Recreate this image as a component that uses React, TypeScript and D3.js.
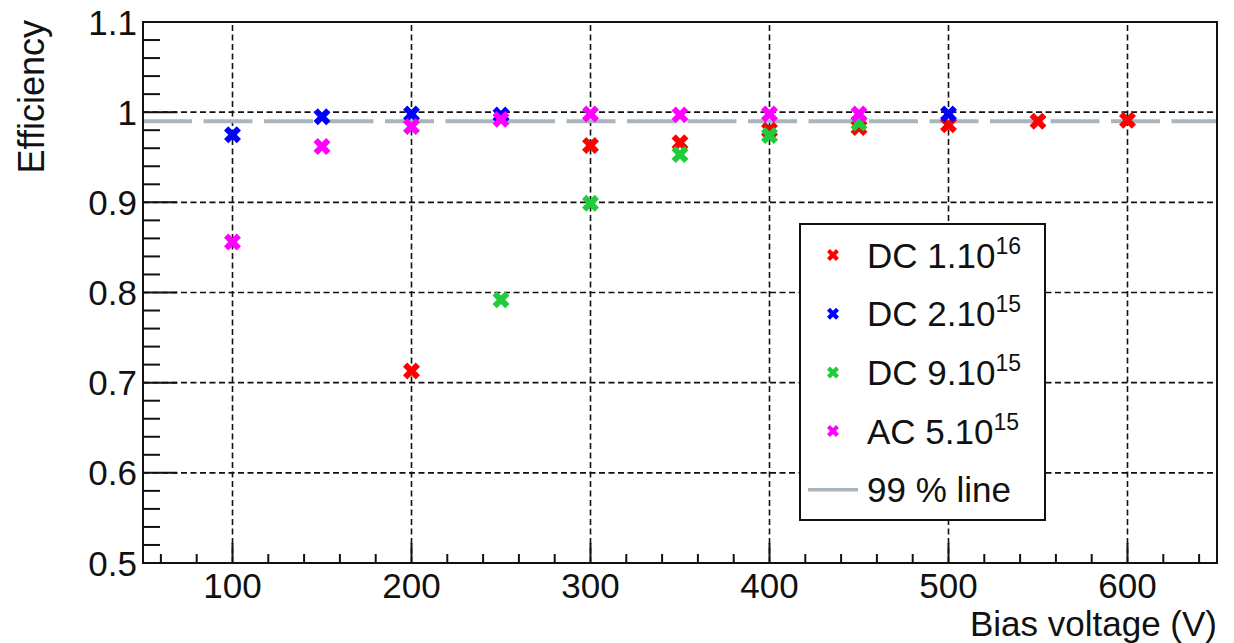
import * as d3 from "d3";
import React from "react";

// values
const xTicks = [100, 200, 300, 400, 500, 600];
const yTicks = [0.5, 0.6, 0.7, 0.8, 0.9, 1, 1.1];
const yTickLabels = ["0.5", "0.6", "0.7", "0.8", "0.9", "1", "1.1"];

const dc16Volt = [200, 300, 350, 400, 450, 500, 550, 600];
const dc16Eff = [0.713, 0.963, 0.966, 0.98, 0.983, 0.986, 0.99, 0.991];

const dc2Volt = [100, 150, 200, 250, 500];
const dc2Eff = [0.975, 0.995, 0.998, 0.997, 0.998];

const dc9Volt = [250, 300, 350, 400, 450];
const dc9Eff = [0.792, 0.899, 0.953, 0.974, 0.988];

const ac5Volt = [100, 150, 200, 250, 300, 350, 400, 450];
const ac5Eff = [0.856, 0.962, 0.984, 0.992, 0.998, 0.997, 0.998, 0.998];

const seriesNames = ["DC 1.10", "DC 2.10", "DC 9.10", "AC 5.10"];
const seriesExp = ["16", "15", "15", "15"];
const seriesColors = ["#ff0000", "#0000ff", "#1fcc3c", "#ff00ff"];
const refLevel = 0.99;
const refLabel = "99 % line";

const W = 1234;
const H = 643;
const FONT = "'Liberation Sans', Arial, Helvetica, sans-serif";

const App = () => {
  const x = d3.scaleLinear().domain([50, 650]).range([143, 1217]);
  const y = d3.scaleLinear().domain([0.5, 1.1]).range([563, 22]);

  const series = [
    { v: dc16Volt, e: dc16Eff },
    { v: dc2Volt, e: dc2Eff },
    { v: dc9Volt, e: dc9Eff },
    { v: ac5Volt, e: ac5Eff },
  ];

  const bigX = d3.symbol(d3.symbolCross, 180)();
  const smallX = d3.symbol(d3.symbolCross, 90)();

  const xMinor = d3.range(60, 650, 20).filter((v) => v % 100 !== 0);
  const yMinor = d3.range(0.52, 1.1, 0.02).filter((v) => Math.abs(v * 10 - Math.round(v * 10)) > 0.01);

  const [x0, x1] = x.range();
  const [yb, yt] = y.range();

  // legend box
  const lg = { left: 800, top: 224, right: 1045, bottom: 520 };
  const rowY = (i) => 255 + i * 58.7;

  return (
    <svg width={W} height={H} style={{ position: "absolute", left: 0, top: 0, background: "#fff" }} fontFamily={FONT}>
      <rect width={W} height={H} fill="#fff" />

      {/* grid */}
      <g stroke="#111" strokeWidth={1.6} strokeDasharray="6,3.5">
        {xTicks.map((t) => (
          <line key={"gx" + t} x1={x(t)} x2={x(t)} y1={yb} y2={yt} />
        ))}
        {yTicks.slice(1, -1).map((t) => (
          <line key={"gy" + t} x1={x0} x2={x1} y1={y(t)} y2={y(t)} />
        ))}
      </g>

      {/* ticks */}
      <g stroke="#111" strokeWidth={2}>
        {xTicks.map((t) => (
          <line key={"tx" + t} x1={x(t)} x2={x(t)} y1={yb} y2={yb - 20} />
        ))}
        {xMinor.map((t) => (
          <line key={"mx" + t} x1={x(t)} x2={x(t)} y1={yb} y2={yb - 9} />
        ))}
        {yTicks.map((t) => (
          <line key={"ty" + t} x1={x0} x2={x0 + 34} y1={y(t)} y2={y(t)} />
        ))}
        {yMinor.map((t) => (
          <line key={"my" + t} x1={x0} x2={x0 + 17} y1={y(t)} y2={y(t)} />
        ))}
      </g>

      {/* 99 % line */}
      <line x1={x0} x2={x1} y1={y(refLevel)} y2={y(refLevel)} stroke="#a9b5bd" strokeWidth={4} strokeDasharray="49,11.5" />

      {/* markers */}
      {series.map((s, i) => (
        <g key={"s" + i} fill={seriesColors[i]}>
          {s.v.map((v, j) => (
            <path key={j} d={bigX} transform={`translate(${x(v)},${y(s.e[j])}) rotate(45)`} />
          ))}
        </g>
      ))}

      {/* frame */}
      <rect x={x0} y={yt} width={x1 - x0} height={yb - yt} fill="none" stroke="#111" strokeWidth={2} />

      {/* tick labels */}
      <g fill="#111" fontSize={35}>
        {xTicks.map((t) => (
          <text key={"lx" + t} x={x(t)} y={598} textAnchor="middle">
            {t}
          </text>
        ))}
        {yTicks.map((t, i) => (
          <text key={"ly" + t} x={137} y={y(t)} dy="0.36em" textAnchor="end">
            {yTickLabels[i]}
          </text>
        ))}
      </g>

      {/* axis titles */}
      <text x={1217} y={636} textAnchor="end" fontSize={35} fill="#111">
        Bias voltage (V)
      </text>
      <text transform="translate(44,20) rotate(-90)" textAnchor="end" fontSize={36} fill="#111">
        Efficiency
      </text>

      {/* legend */}
      <rect x={lg.left} y={lg.top} width={lg.right - lg.left} height={lg.bottom - lg.top} fill="#fff" stroke="#111" strokeWidth={2} />
      {seriesNames.map((n, i) => (
        <g key={"lg" + i}>
          <path d={smallX} fill={seriesColors[i]} transform={`translate(833,${rowY(i)}) rotate(45)`} />
          <text x={867} y={rowY(i)} dy="0.36em" fontSize={35} fill="#111">
            {n}
            <tspan dy={-14} fontSize={23}>
              {seriesExp[i]}
            </tspan>
          </text>
        </g>
      ))}
      <line x1={808} x2={858} y1={rowY(4)} y2={rowY(4)} stroke="#a9b5bd" strokeWidth={3.5} />
      <text x={867} y={rowY(4)} dy="0.36em" fontSize={35} fill="#111">
        {refLabel}
      </text>
    </svg>
  );
};

export default App;
